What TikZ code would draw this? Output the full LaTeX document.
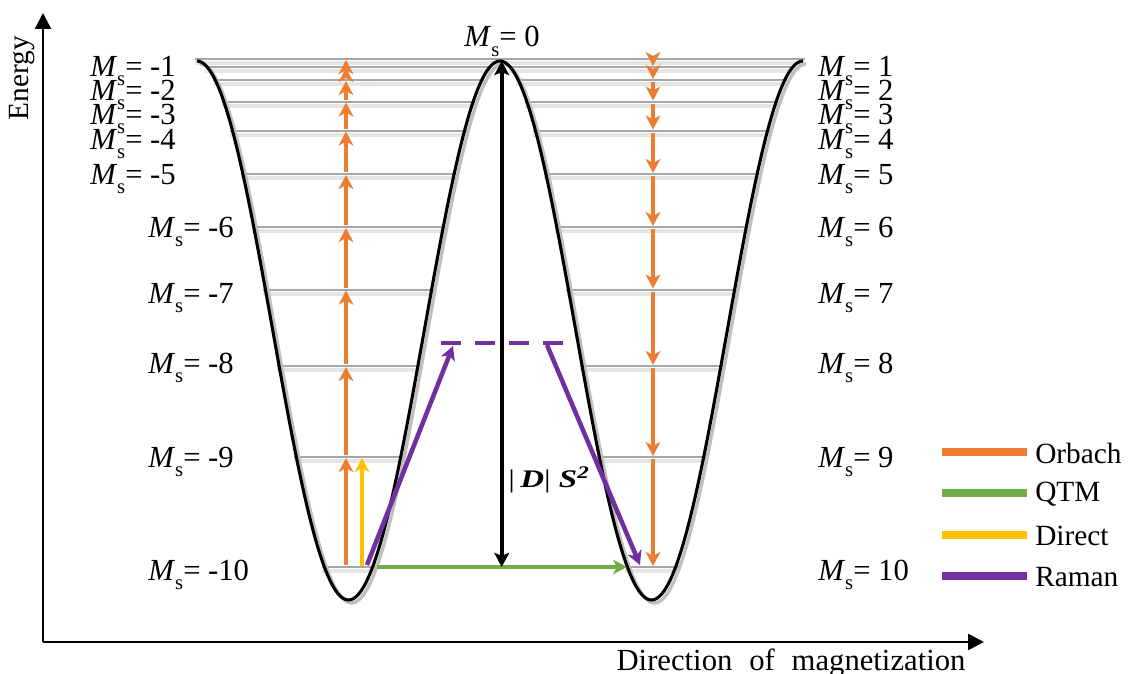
\documentclass[tikz,border=0pt]{standalone}
\usepackage{fontspec}
\setmainfont{Liberation Serif}
\usetikzlibrary{arrows.meta}
\definecolor{orb}{HTML}{ED7D31}
\definecolor{qtm}{HTML}{70AD47}
\definecolor{dirc}{HTML}{FFC000}
\definecolor{ram}{HTML}{7030A0}
\definecolor{lvl}{HTML}{A6A6A6}
\newcommand\Msub{\textit{M}\raisebox{-0.3em}{\fontsize{15.5}{15}\selectfont s}}
\def\levels{{59,67,80,101.5,130.5,174,227,289.5,366,457,567}}
\begin{document}
\begin{tikzpicture}[x=0.75pt,y=-0.75pt,
  lab/.style={font=\fontsize{23}{24}\selectfont, inner sep=0pt, anchor=base west},
  leg/.style={font=\fontsize{22}{24}\selectfont, inner sep=0pt, anchor=west},
  axis/.style={line width=1.9pt, -{Triangle[length=12pt,width=12pt]}},
  lvline/.style={draw=lvl, line width=1.5pt},
  lvshadow/.style={draw=black!10, line width=3pt},
  tip/.style={-{Stealth[length=10.5pt,width=11pt,inset=3pt]}},
  orbach/.style={draw=orb, line width=3.2pt, tip},
  direct/.style={draw=dirc, line width=3.2pt, tip},
  qtmarr/.style={draw=qtm, line width=3.2pt, tip},
  raman/.style={draw=ram, line width=3.4pt, tip},
  barrier/.style={line width=2.7pt, {Stealth[length=10.5pt,width=11pt,inset=2pt]}-{Stealth[length=10.5pt,width=11pt,inset=2pt]}},
  legline/.style={line width=6pt}
]
\useasboundingbox (0,0) rectangle (1131,674);

% axes
\coordinate (O) at (43,642);
\coordinate (ytop) at (43,13);
\coordinate (xend) at (984,642);
\draw[axis] (O) -- (ytop);
\draw[axis] (O) -- (xend);
\node[rotate=90, font=\fontsize{22}{24}\selectfont, inner sep=0pt] (elab) at (22,78) {Energy};
\node[anchor=base, font=\fontsize{23}{24}\selectfont, inner sep=0pt] (xlab) at (791,670) {Direction\hspace{0.3em} of\hspace{0.3em} magnetization};

% level lines
\coordinate (t0a) at (195,59);
\coordinate (t0b) at (805,59);
\draw[lvshadow] ([yshift=-3pt]t0a) -- ([yshift=-3pt]t0b);
\draw[lvline] (t0a) -- (t0b);
\foreach \k in {1,...,10}{
  \pgfmathsetmacro\yy{\levels[\k]}
  \pgfmathsetmacro\dd{acos((330.5-\yy)/269.5)*0.841667}
  \coordinate (la\k) at (197+\dd-2,\yy);
  \coordinate (lb\k) at (500-\dd+2,\yy);
  \coordinate (ra\k) at (500+\dd-2,\yy);
  \coordinate (rb\k) at (803-\dd+2,\yy);
  \draw[lvshadow] ([yshift=-3pt]la\k) -- ([yshift=-3pt]lb\k);
  \draw[lvshadow] ([yshift=-3pt]ra\k) -- ([yshift=-3pt]rb\k);
  \draw[lvline] (la\k) -- (lb\k);
  \draw[lvline] (ra\k) -- (rb\k);
}

% double well curve
\draw[black!25, line width=2.5pt, shift={(3,3)}] plot[smooth, domain=197:803, samples=241] (\x,{330.5-269.5*cos((\x-500)*1.188119)});
\draw[line width=2.3pt] plot[smooth, domain=197:803, samples=241] (\x,{330.5-269.5*cos((\x-500)*1.188119)});

% Orbach arrows
\foreach \k in {1,...,10}{
  \pgfmathsetmacro\ylo{\levels[\k]}
  \pgfmathsetmacro\yhi{\levels[\k-1]}
  \coordinate (ou\k) at (346,\ylo-2);
  \coordinate (ot\k) at (346,\yhi+1);
  \draw[orbach] (ou\k) -- (ot\k);
  \coordinate (du\k) at (653,\yhi+2);
  \coordinate (dt\k) at (653,\ylo-1);
  \draw[orbach] (du\k) -- (dt\k);
}

% Direct
\coordinate (ds) at (362,566);
\coordinate (de) at (362,458);
\draw[direct] (ds) -- (de);

% QTM
\coordinate (qs) at (377,567);
\coordinate (qe) at (627,567);
\draw[qtmarr] (qs) -- (qe);

% Raman
\coordinate (r1s) at (367,565);
\coordinate (r1e) at (453,346);
\coordinate (r2s) at (547,345);
\coordinate (r2e) at (640,565);
\coordinate (vs) at (441,343);
\coordinate (ve) at (563,343);
\draw[draw=ram, line width=3.4pt, dash pattern=on 15pt off 10.5pt] (vs) -- (ve);
\draw[raman] (r1s) -- (r1e);
\draw[raman] (r2s) -- (r2e);

% barrier
\coordinate (bt) at (501.7,61);
\coordinate (bb) at (501.7,567);
\draw[barrier] (bb) -- (bt);
\node[inner sep=0pt, anchor=base west, font=\fontsize{19}{20}\selectfont] (dlab) at (508,487)
  {\scalebox{1.3}[1]{|\,\textbf{\textit{D}}| \textbf{\textit{S}}\textsuperscript{\textbf{\textit{2}}}}};

% labels
\node[lab, anchor=base] (m0) at (502,47) {\Msub= 0};
\foreach \k/\yb in {1/76,2/100,3/124,4/149,5/184}{
  \node[lab] (lm\k) at (90,\yb) {\Msub= -\k};
  \node[lab] (rm\k) at (818,\yb) {\Msub= \k};
}
\foreach \k/\yb in {6/237,7/303,8/373,9/467,10/580}{
  \node[lab] (lm\k) at (148,\yb) {\Msub= -\k};
  \node[lab] (rm\k) at (818,\yb) {\Msub= \k};
}

% legend
\foreach \n/\c/\yy/\t in {1/orb/452/Orbach,2/qtm/493/QTM,3/dirc/535/Direct,4/ram/576/Raman}{
  \coordinate (lg\n a) at (942,\yy);
  \coordinate (lg\n b) at (1027,\yy);
  \draw[legline, draw=\c] (lg\n a) -- (lg\n b);
  \node[leg] (lt\n) at (1035,\yy+1) {\t};
}
\end{tikzpicture}
\end{document}
